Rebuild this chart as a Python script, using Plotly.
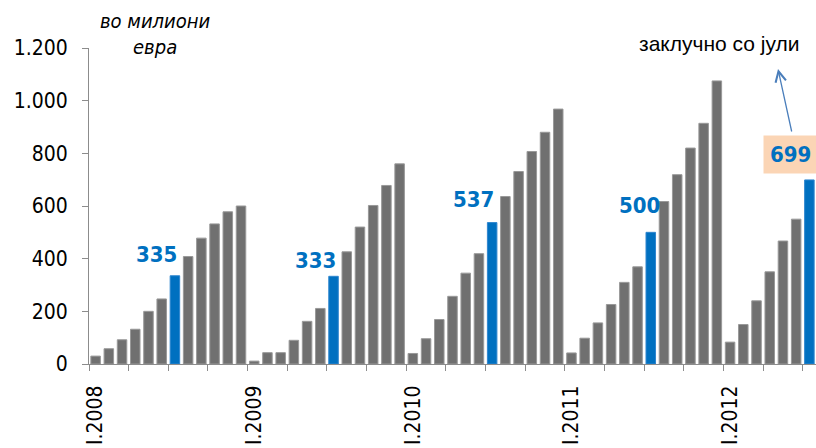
import plotly.graph_objects as go

# ---------------- data ----------------
years = [2008, 2009, 2010, 2011, 2012]
month_numerals = ["I", "II", "III", "IV", "V", "VI", "VII", "VIII", "IX", "X", "XI", "XII"]
categories = [f"{m}.{y}" for y in years for m in month_numerals][:55]  # Jan 2008 .. Jul 2012

values = [
    30, 58, 92, 132, 200, 247, 335, 408, 478, 532, 578, 600,      # 2008
    11, 43, 43, 90, 162, 211, 333, 426, 520, 602, 678, 760,       # 2009
    40, 96, 169, 257, 345, 419, 537, 636, 731, 807, 880, 968,     # 2010
    42, 98, 156, 226, 310, 369, 500, 617, 719, 820, 914, 1075,    # 2011
    83, 150, 240, 350, 467, 550, 699,                             # 2012
]
highlight_months = ["VII"]  # July bars shown in blue with labels
tick_label_months = ["I"]   # labels shown for January
y_ticks = [0, 200, 400, 600, 800, 1000, 1200]
y_tick_text = ["0", "200", "400", "600", "800", "1.000", "1.200"]
unit_text = "<i>во милиони<br>евра</i>"
note_text = "заклучно со јули"

# ---------------- figure ----------------
xs = list(range(len(categories)))
is_hl = [c.split(".")[0] in highlight_months for c in categories]

GRAY = "#707070"
GRAY_EDGE = "#999999"
BLUE = "#0070C0"
BLUE_EDGE = "#2f86cf"
FONT = "DejaVu Sans Condensed, DejaVu Sans, Liberation Sans, sans-serif"

W, H = 816, 448
L, R, T, B = 89, 0, 48, 84
pw, ph = W - L - R, H - T - B


def px_to_paper(px, py):
    return (px - L) / pw, (H - B - py) / ph


fig = go.Figure()
fig.add_trace(go.Bar(
    x=xs, y=values,
    width=0.72,
    marker=dict(
        color=[BLUE if h else GRAY for h in is_hl],
        line=dict(color=[BLUE_EDGE if h else GRAY_EDGE for h in is_hl], width=1),
    ),
    hovertext=categories,
    showlegend=False,
))

# July labels
label_dx = {6: 4, 18: 4, 30: 4, 42: 11}
label_dy = {6: 21, 18: 16, 30: 23, 42: 27}
last = len(categories) - 1
for i, (c, v, h) in enumerate(zip(categories, values, is_hl)):
    if not h:
        continue
    if i == last:
        fig.add_annotation(
            x=i, y=v, xref="x", yref="y", text=f"<b>{v}</b>", showarrow=False,
            xanchor="right", yanchor="middle", xshift=9, yshift=25,
            bgcolor="#FBD5B5", borderpad=6,
            font=dict(family=FONT, size=22, color=BLUE),
        )
    else:
        fig.add_annotation(
            x=i, y=v, xref="x", yref="y", text=f"<b>{v}</b>", showarrow=False,
            xanchor="right", yanchor="middle",
            xshift=label_dx.get(i, 4), yshift=label_dy.get(i, 20),
            font=dict(family=FONT, size=22, color=BLUE),
        )

# unit text
ux, uy = px_to_paper(155, 34)
fig.add_annotation(
    x=ux, y=uy, xref="paper", yref="paper", text=unit_text, showarrow=False,
    font=dict(family=FONT, size=20, color="#000000"),
    xanchor="center", yanchor="middle", align="center",
)

# note text + arrow
nx, ny = px_to_paper(719, 44)
fig.add_annotation(
    x=nx, y=ny, xref="paper", yref="paper", text=note_text, showarrow=False,
    font=dict(family="Liberation Sans, Arial, sans-serif", size=21, color="#000000"),
    xanchor="center", yanchor="middle",
)
axp, ayp = px_to_paper(778, 69)
fig.add_annotation(
    x=axp, y=ayp, xref="paper", yref="paper", text="", showarrow=True,
    ax=14, ay=64, arrowhead=5, arrowsize=1.6, arrowwidth=1.3, arrowcolor="#4a7ebb",
)

tick_idx = [i for i, c in enumerate(categories) if c.split(".")[0] in tick_label_months]

fig.update_layout(
    width=W, height=H,
    margin=dict(l=L, r=R, t=T, b=B, pad=0, autoexpand=False),
    plot_bgcolor="white", paper_bgcolor="white",
    font=dict(family=FONT, size=21, color="#000000"),
    xaxis=dict(
        range=[-0.5, len(categories) - 0.5],
        tickmode="array", tickvals=tick_idx, ticktext=[categories[i] for i in tick_idx],
        tickangle=-90, ticks="", ticklen=0, ticklabelstandoff=12,
        tickfont=dict(family=FONT, size=21, color="#000000"),
        showline=True, linecolor="#8c8c8c", linewidth=1,
        showgrid=False, zeroline=False, automargin=False,
        minor=dict(tick0=-0.5, dtick=3, ticks="outside", ticklen=6, tickcolor="#8c8c8c", showgrid=False),
    ),
    yaxis=dict(
        range=[0, 1200],
        tickmode="array", tickvals=y_ticks, ticktext=y_tick_text,
        ticks="outside", ticklen=6, tickcolor="#8c8c8c", ticklabelstandoff=10,
        tickfont=dict(family=FONT, size=21, color="#000000"),
        showline=True, linecolor="#8c8c8c", linewidth=1,
        showgrid=False, zeroline=False, automargin=False,
    ),
)

fig.write_html(
    "out.html",
    config={"displayModeBar": False},
    post_script="document.body.style.margin='0';document.body.style.overflow='hidden';",
)
